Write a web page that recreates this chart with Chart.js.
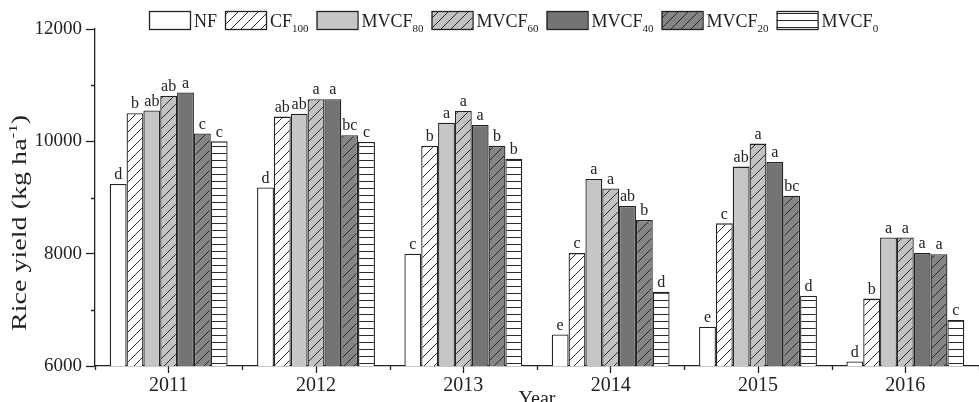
<!DOCTYPE html>
<html>
<head>
<meta charset="utf-8">
<script src="https://cdn.jsdelivr.net/npm/chart.js@4/dist/chart.umd.min.js"></script>
<style>
  html, body { margin: 0; padding: 0; background: #fff; }
  #wrap { width: 979px; height: 402px; }
</style>
</head>
<body>
<div id="wrap"><canvas id="yield-chart" width="979" height="402"></canvas></div>
<script>
// data
const years = ['2011', '2012', '2013', '2014', '2015', '2016'];
const seriesNames = ['NF', 'CF', 'MVCF', 'MVCF', 'MVCF', 'MVCF', 'MVCF'];
const seriesSubs = ['', '100', '80', '60', '40', '20', '0'];

const nf     = [9240, 9180, 8000, 6560, 6700, 6080];
const cf100  = [10500, 10440, 9920, 8010, 8540, 7200];
const mvcf80 = [10550, 10490, 10330, 9330, 9550, 8290];
const mvcf60 = [10810, 10750, 10540, 9160, 9960, 8290];
const mvcf40 = [10870, 10750, 10290, 8850, 9630, 8010];
const mvcf20 = [10140, 10110, 9920, 8600, 9030, 7990];
const mvcf0  = [10000, 9990, 9690, 7320, 7250, 6820];

const lettersNF     = ['d', 'd', 'c', 'e', 'e', 'd'];
const lettersCF100  = ['b', 'ab', 'b', 'c', 'c', 'b'];
const lettersMV80   = ['ab', 'ab', 'a', 'a', 'ab', 'a'];
const lettersMV60   = ['ab', 'a', 'a', 'a', 'a', 'a'];
const lettersMV40   = ['a', 'a', 'a', 'ab', 'a', 'a'];
const lettersMV20   = ['c', 'bc', 'b', 'b', 'bc', 'a'];
const lettersMV0    = ['c', 'c', 'b', 'd', 'd', 'c'];

const yTicks = [6000, 8000, 10000, 12000];

const SERIF = '"Liberation Serif", "DejaVu Serif", serif';
const INK = '#222';

function makePattern(bg, kind) {
    const c = document.createElement('canvas');
    const size = kind === 'horiz' ? 7 : 10;
    c.width = size; c.height = size;
    const g = c.getContext('2d');
    g.fillStyle = bg;
    g.fillRect(0, 0, size, size);
    g.strokeStyle = '#2a2a2a';
    g.lineWidth = 1;
    g.beginPath();
    if (kind === 'diag') {
        g.moveTo(-1, size + 1); g.lineTo(size + 1, -1);
        g.moveTo(-size - 1, size + 1); g.lineTo(1, -1);
        g.moveTo(size - 1, size + 1); g.lineTo(2 * size + 1, -1);
    } else {
        g.moveTo(0, size - 0.5); g.lineTo(size, size - 0.5);
    }
    g.stroke();
    return g.createPattern(c, 'repeat');
}

const fills = [
    '#ffffff',
    makePattern('#ffffff', 'diag'),
    '#c6c6c6',
    makePattern('#c2c2c2', 'diag'),
    '#747474',
    makePattern('#858585', 'diag'),
    makePattern('#ffffff', 'horiz')
];
const values = [nf, cf100, mvcf80, mvcf60, mvcf40, mvcf20, mvcf0];
const letters = [lettersNF, lettersCF100, lettersMV80, lettersMV60, lettersMV40, lettersMV20, lettersMV0];

const datasets = values.map((v, i) => ({
    label: seriesNames[i] + seriesSubs[i],
    data: v,
    backgroundColor: fills[i],
    borderColor: INK,
    borderWidth: 1.3,
    categoryPercentage: 0.8,
    barPercentage: 1.0
}));

// letters, legend, axis titles and minor ticks
const extras = {
    id: 'extras',
    afterDatasetsDraw(chart) {
        const ctx = chart.ctx;
        ctx.save();
        ctx.fillStyle = INK;
        ctx.font = '16px ' + SERIF;
        ctx.textAlign = 'center';
        ctx.textBaseline = 'bottom';
        chart.data.datasets.forEach((ds, i) => {
            chart.getDatasetMeta(i).data.forEach((bar, j) => {
                ctx.fillText(letters[i][j], bar.x, bar.y - 1);
            });
        });
        ctx.restore();
    },
    afterDraw(chart) {
        const ctx = chart.ctx;
        const area = chart.chartArea;
        const x = chart.scales.x, y = chart.scales.y;
        ctx.save();
        ctx.strokeStyle = INK;
        ctx.lineWidth = 1.3;
        ctx.beginPath();
        // minor y ticks
        for (let v = 7000; v < 12000; v += 2000) {
            const py = Math.round(y.getPixelForValue(v)) + 0.5;
            ctx.moveTo(area.left - 4, py); ctx.lineTo(area.left, py);
        }
        // minor x ticks at category boundaries
        const step = x.getPixelForValue(1) - x.getPixelForValue(0);
        for (let k = 0; k <= years.length; k++) {
            const px = Math.round(x.getPixelForValue(k) - step / 2) + 0.5;
            ctx.moveTo(px, area.bottom); ctx.lineTo(px, area.bottom + 4);
        }
        ctx.stroke();

        // legend
        let lx = 149;
        const ly = 11, bw = 41, bh = 18;
        chart.data.datasets.forEach((ds, i) => {
            ctx.fillStyle = fills[i];
            ctx.fillRect(lx, ly, bw, bh);
            ctx.lineWidth = 1.3;
            ctx.strokeStyle = INK;
            ctx.strokeRect(lx + 0.5, ly + 0.5, bw, bh);
            let tx = lx + bw + 4;
            ctx.fillStyle = INK;
            ctx.textAlign = 'left';
            ctx.textBaseline = 'alphabetic';
            ctx.font = '18px ' + SERIF;
            ctx.fillText(seriesNames[i], tx, ly + 16);
            tx += ctx.measureText(seriesNames[i]).width;
            if (seriesSubs[i]) {
                ctx.font = '11px ' + SERIF;
                ctx.fillText(seriesSubs[i], tx, ly + 21);
                tx += ctx.measureText(seriesSubs[i]).width;
            }
            lx = tx + 8;
        });

        // y title with superscript, stretched along its length like the source
        ctx.save();
        ctx.translate(26, 223);
        ctx.rotate(-Math.PI / 2);
        ctx.fillStyle = INK;
        ctx.textBaseline = 'alphabetic';
        const main = 'Rice yield (kg ha';
        ctx.font = '20px ' + SERIF;
        const wMain = ctx.measureText(main).width;
        ctx.font = '12px ' + SERIF;
        const wSup = ctx.measureText('-1').width;
        ctx.font = '20px ' + SERIF;
        const wEnd = ctx.measureText(')').width;
        const total = wMain + wSup + wEnd;
        ctx.scale(216 / total, 1);
        let sx = -total / 2;
        ctx.textAlign = 'left';
        ctx.fillText(main, sx, 0);
        sx += wMain;
        ctx.font = '12px ' + SERIF;
        ctx.fillText('-1', sx, -9);
        sx += wSup;
        ctx.font = '20px ' + SERIF;
        ctx.fillText(')', sx, 0);
        ctx.restore();

        // x title
        ctx.fillStyle = INK;
        ctx.font = '20px ' + SERIF;
        ctx.textAlign = 'center';
        ctx.textBaseline = 'alphabetic';
        ctx.fillText('Year', 537, 405);
        ctx.restore();
    }
};

new Chart(document.getElementById('yield-chart').getContext('2d'), {
    type: 'bar',
    data: { labels: years, datasets: datasets },
    options: {
        responsive: false,
        animation: false,
        layout: { padding: { top: 29, right: 0, left: 0, bottom: 0 } },
        plugins: {
            legend: { display: false },
            tooltip: { enabled: false }
        },
        scales: {
            x: {
                offset: true,
                grid: { drawOnChartArea: false, offset: false, tickLength: 7, tickColor: INK, tickWidth: 1.3 },
                border: { color: INK, width: 1.3 },
                ticks: { color: INK, font: { family: SERIF, size: 20 }, padding: 1, maxRotation: 0 },
                afterFit(s) { s.height = 36; }
            },
            y: {
                min: 6000,
                max: 12000,
                afterBuildTicks(s) { s.ticks = yTicks.map(v => ({ value: v })); },
                grid: { drawOnChartArea: false, tickLength: 9, tickColor: INK, tickWidth: 1.3 },
                border: { color: INK, width: 1.3 },
                ticks: {
                    color: INK,
                    font: { family: SERIF, size: 19 },
                    padding: 4,
                    callback: v => String(v)
                },
                afterFit(s) { s.width = 95; }
            }
        }
    },
    plugins: [extras]
});
</script>
</body>
</html>
